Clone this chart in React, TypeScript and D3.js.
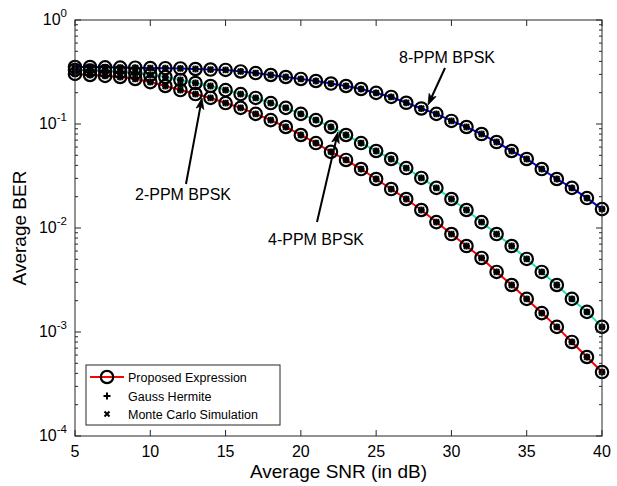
import React from "react";
import * as d3 from "d3";

const snrDb = [5,6,7,8,9,10,11,12,13,14,15,16,17,18,19,20,21,22,23,24,25,26,27,28,29,30,31,32,33,34,35,36,37,38,39,40];
const ber2PPM = [0.303,0.296,0.290,0.283,0.271,0.253,0.232,0.212,0.194,0.178,0.159,0.143,0.125,0.109,0.0936,0.0784,0.0656,0.0540,0.0451,0.0369,0.0296,0.0237,0.0190,0.0149,0.0114,0.00875,0.00671,0.00515,0.00378,0.00283,0.00208,0.00152,0.00112,0.000802,0.000575,0.000412];
const ber4PPM = [0.331,0.327,0.323,0.316,0.309,0.296,0.283,0.265,0.248,0.232,0.212,0.194,0.178,0.159,0.143,0.125,0.109,0.0936,0.0784,0.0656,0.0550,0.0461,0.0377,0.0303,0.0243,0.0190,0.0149,0.0114,0.00875,0.00671,0.00504,0.00378,0.00283,0.00208,0.00156,0.00112];
const ber8PPM = [0.353,0.353,0.351,0.349,0.348,0.345,0.344,0.342,0.338,0.334,0.331,0.320,0.309,0.296,0.283,0.271,0.259,0.245,0.232,0.217,0.199,0.182,0.160,0.141,0.125,0.107,0.0936,0.0801,0.0671,0.0550,0.0461,0.0369,0.0296,0.0243,0.0194,0.0152];

const seriesNames = ["2-PPM BPSK", "4-PPM BPSK", "8-PPM BPSK"];
const seriesColors = ["#ff0000", "#1fe3b4", "#0000ff"];
const xTicks = [5,10,15,20,25,30,35,40];
const yDecades = [0,-1,-2,-3,-4];
const legendLabels = ["Proposed Expression", "Gauss Hermite", "Monte Carlo Simulation"];

const W = 617, H = 486;
const L = 75, R = 602, T = 20, B = 436;
const FONT = "'Liberation Sans', Arial, Helvetica, sans-serif";
const AX = "#262626";

function Arrow({ x1, y1, x2, y2 }: { x1: number; y1: number; x2: number; y2: number }) {
  const dx = x2 - x1, dy = y2 - y1;
  const len = Math.hypot(dx, dy);
  const ux = dx / len, uy = dy / len;
  const nx = -uy, ny = ux;
  const hl = 11, hw = 3.8;
  const bx = x2 - ux * hl, by = y2 - uy * hl;
  const ix = x2 - ux * hl * 0.75, iy = y2 - uy * hl * 0.75;
  const d = `M${x2},${y2}L${bx + nx * hw},${by + ny * hw}L${ix},${iy}L${bx - nx * hw},${by - ny * hw}Z`;
  return (
    <g>
      <line x1={x1} y1={y1} x2={ix} y2={iy} stroke="#000" strokeWidth={2} />
      <path d={d} fill="#000" stroke="#000" strokeWidth={0.8} />
    </g>
  );
}

function Markers({ cx, cy }: { cx: number; cy: number }) {
  const s = 3.4;
  return (
    <g>
      <circle cx={cx} cy={cy} r={6.2} fill="none" stroke="#000" strokeWidth={2.2} />
      <path d={`M${cx - s},${cy}H${cx + s}M${cx},${cy - s}V${cy + s}`} stroke="#000" strokeWidth={2.2} />
      <path d={`M${cx - s * 0.8},${cy - s * 0.8}L${cx + s * 0.8},${cy + s * 0.8}M${cx - s * 0.8},${cy + s * 0.8}L${cx + s * 0.8},${cy - s * 0.8}`} stroke="#000" strokeWidth={2.2} />
    </g>
  );
}

export default function App() {
  const x = d3.scaleLinear().domain([5, 40]).range([L, R]);
  const y = d3.scaleLog().domain([1e-4, 1]).range([B, T]);
  const data = [ber2PPM, ber4PPM, ber8PPM];
  const line = d3.line<number>().x((_, i) => x(snrDb[i])).y((v) => y(v));

  const minor: number[] = [];
  for (let e = -4; e < 0; e++) for (let m = 2; m <= 9; m++) minor.push(m * Math.pow(10, e));

  return (
    <svg width={W} height={H} style={{ position: "absolute", left: 0, top: 0, background: "#fff" }} fontFamily={FONT}>
      <rect x={0} y={0} width={W} height={H} fill="#fff" />
      {/* series lines */}
      {data.map((s, k) => (
        <path key={"l" + k} d={line(s) || ""} fill="none" stroke={seriesColors[k]} strokeWidth={2} />
      ))}
      {/* markers */}
      {data.map((s, k) => (
        <g key={"m" + k}>
          {s.map((v, i) => (
            <Markers key={i} cx={x(snrDb[i])} cy={y(v)} />
          ))}
        </g>
      ))}
      {/* axes box */}
      <rect x={L} y={T} width={R - L} height={B - T} fill="none" stroke={AX} strokeWidth={1} />
      {xTicks.map((t) => (
        <g key={"xt" + t}>
          <line x1={x(t)} x2={x(t)} y1={B} y2={B - 6} stroke={AX} />
          <line x1={x(t)} x2={x(t)} y1={T} y2={T + 6} stroke={AX} />
          <text x={x(t)} y={B + 21} fontSize={16} textAnchor="middle" fill="#000">{t}</text>
        </g>
      ))}
      {yDecades.map((e) => {
        const yy = y(Math.pow(10, e));
        return (
          <g key={"yt" + e}>
            <line x1={L} x2={L + 6} y1={yy} y2={yy} stroke={AX} />
            <line x1={R} x2={R - 6} y1={yy} y2={yy} stroke={AX} />
            <text x={L - 8} y={yy + 5} fontSize={16} textAnchor="end" fill="#000">
              10<tspan dy={-8} fontSize={11.5}>{e}</tspan>
            </text>
          </g>
        );
      })}
      {minor.map((v, i) => (
        <g key={"mn" + i}>
          <line x1={L} x2={L + 3} y1={y(v)} y2={y(v)} stroke={AX} />
          <line x1={R} x2={R - 3} y1={y(v)} y2={y(v)} stroke={AX} />
        </g>
      ))}
      <text x={(L + R) / 2} y={478} fontSize={19} textAnchor="middle" fill="#000">Average SNR (in dB)</text>
      <text transform={`translate(26,${(T + B) / 2}) rotate(-90)`} fontSize={19} textAnchor="middle" fill="#000">Average BER</text>

      {/* annotations */}
      <text x={447} y={63} fontSize={16} textAnchor="middle" fill="#000">{seriesNames[2]}</text>
      <Arrow x1={445} y1={68} x2={428} y2={105} />
      <text x={183} y={200} fontSize={16} textAnchor="middle" fill="#000">{seriesNames[0]}</text>
      <Arrow x1={186} y1={184} x2={202} y2={98} />
      <text x={316} y={245} fontSize={16} textAnchor="middle" fill="#000">{seriesNames[1]}</text>
      <Arrow x1={317} y1={222} x2={338} y2={132} />

      {/* legend */}
      <g>
        <rect x={86} y={365} width={194} height={60} fill="#fff" stroke={AX} strokeWidth={1} />
        <line x1={90} x2={124} y1={377} y2={377} stroke={seriesColors[0]} strokeWidth={2} />
        <circle cx={107} cy={377} r={6.2} fill="none" stroke="#000" strokeWidth={2.2} />
        <path d="M103.5,396H110.5M107,392.5V399.5" stroke="#000" strokeWidth={2} />
        <path d="M104.5,411.5L109.5,416.5M104.5,416.5L109.5,411.5" stroke="#000" strokeWidth={2} />
        {legendLabels.map((t, i) => (
          <text key={t} x={128} y={[377, 396, 414][i] + 4.5} fontSize={12.5} fill="#000">{t}</text>
        ))}
      </g>
    </svg>
  );
}
